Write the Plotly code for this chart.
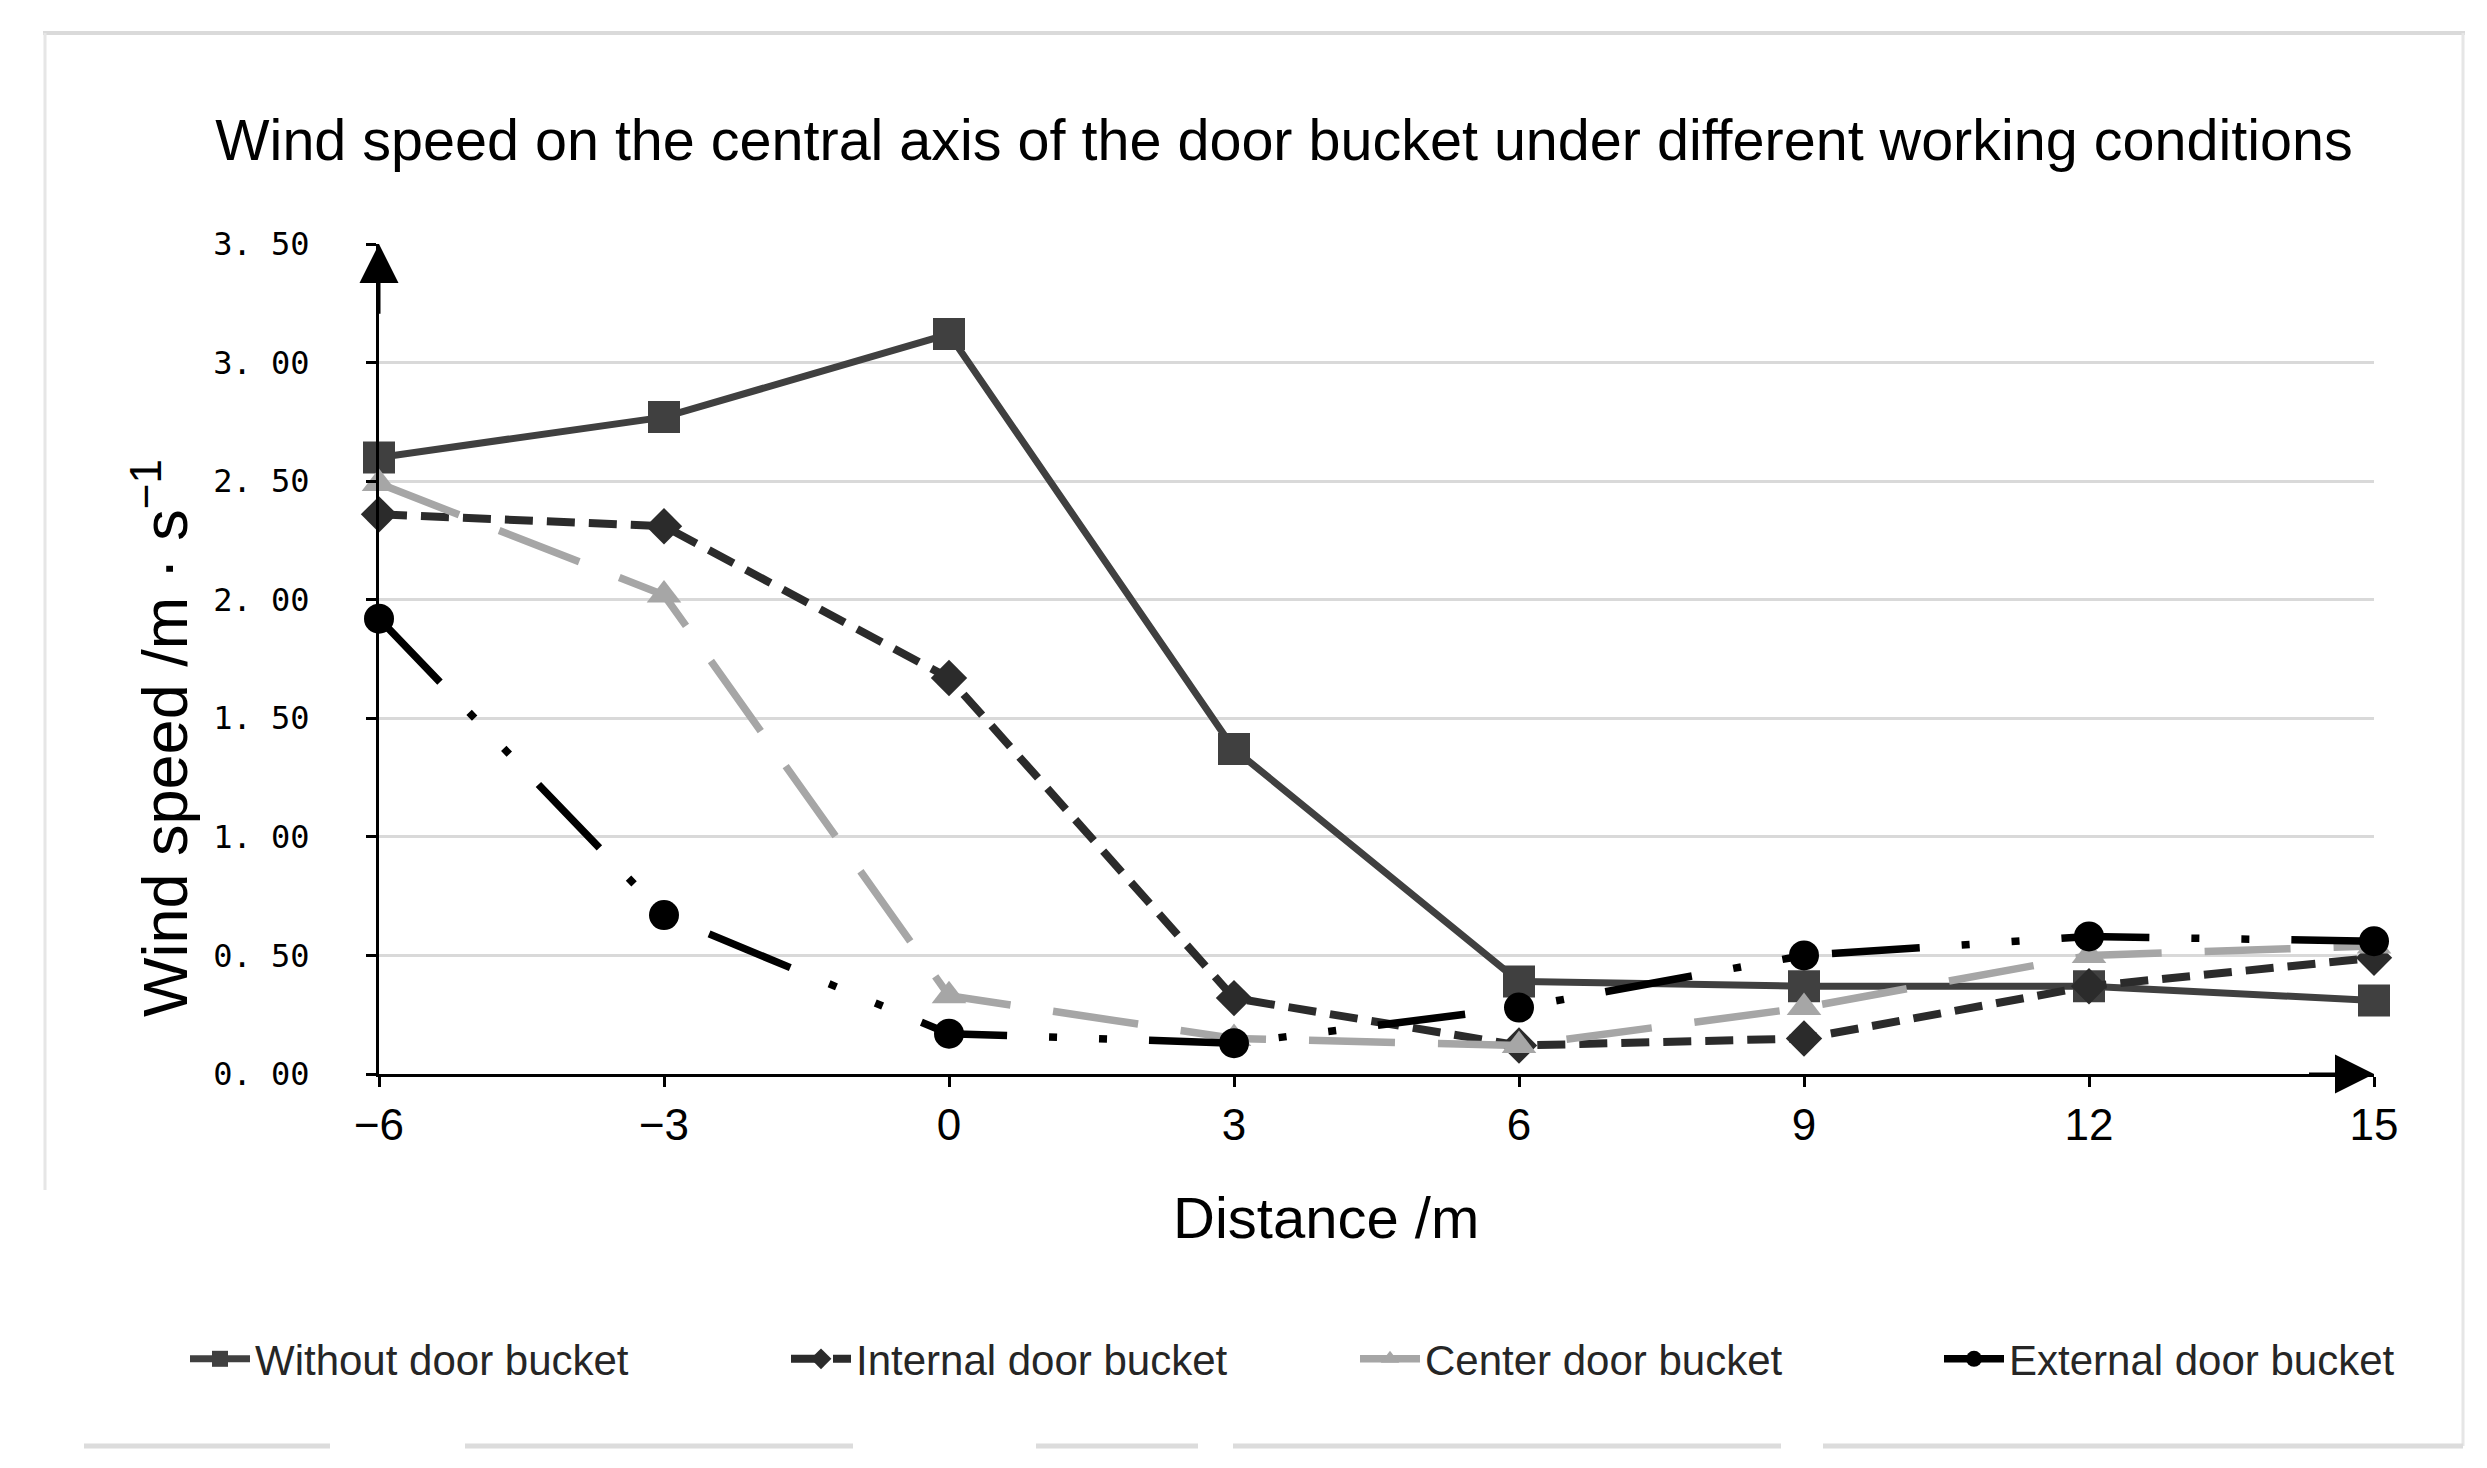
import plotly.graph_objects as go

# ---------------- data ----------------
distance = [-6, -3, 0, 3, 6, 9, 12, 15]
x_tick_text = ["−6", "−3", "0", "3", "6", "9", "12", "15"]
y_tick_vals = [0, 0.5, 1.0, 1.5, 2.0, 2.5, 3.0, 3.5]
y_tick_text = ["0. 00", "0. 50", "1. 00", "1. 50", "2. 00", "2. 50", "3. 00", "3. 50"]

without_door_bucket = [2.60, 2.77, 3.12, 1.37, 0.39, 0.37, 0.37, 0.31]
internal_door_bucket = [2.36, 2.31, 1.67, 0.32, 0.12, 0.15, 0.37, 0.49]
center_door_bucket = [2.49, 2.02, 0.33, 0.15, 0.12, 0.28, 0.50, 0.54]
external_door_bucket = [1.92, 0.67, 0.17, 0.13, 0.28, 0.50, 0.58, 0.56]

series_names = ["Without door bucket", "Internal door bucket",
                "Center door bucket", "External door bucket"]

W, H = 2487, 1468
L, R, T, B = 371, 121, 236, 402
PW, PH = W - L - R, H - T - B


def px_to_paper_x(px):
    return (px - L) / PW


def px_to_paper_y(py):
    return (H - B - py) / PH


fig = go.Figure()

styles = [
    dict(data=without_door_bucket, color="#404040", dash="solid", width=7,
         symbol="square", size=32),
    dict(data=internal_door_bucket, color="#2b2b2b", dash="28px,14px", width=8,
         symbol="diamond", size=28),
    dict(data=center_door_bucket, color="#a6a6a6", dash="86px,43px", width=7.5,
         symbol="triangle-up", size=30),
    dict(data=external_door_bucket, color="#000000",
         dash="88px,42px,8px,42px,8px,42px", width=7.5,
         symbol="circle", size=30),
]
legend_ids = ["legend", "legend2", "legend3", "legend4"]
# left edge (px) where each legend entry's text begins in the reference
legend_text_px = [257, 858, 1427, 2011]

for name, st, lg in zip(series_names, styles, legend_ids):
    fig.add_trace(go.Scatter(
        x=distance, y=st["data"], name=name, mode="lines+markers",
        line=dict(color=st["color"], width=st["width"], dash=st["dash"]),
        marker=dict(symbol=st["symbol"], size=st["size"], color=st["color"],
                    line=dict(width=0)),
        cliponaxis=False, legend=lg,
    ))

# axis arrows
fig.add_annotation(x=-6, y=3.5, ax=-6, ay=3.2, xref="x", yref="y",
                   axref="x", ayref="y", showarrow=True, arrowhead=2,
                   arrowsize=2.6, arrowwidth=3, arrowcolor="black", text="")
fig.add_annotation(x=15, y=0, ax=14.3, ay=0, xref="x", yref="y",
                   axref="x", ayref="y", showarrow=True, arrowhead=2,
                   arrowsize=2.6, arrowwidth=3, arrowcolor="black", text="")

# axis titles
fig.add_annotation(text="Distance /m", xref="paper", yref="paper",
                   x=px_to_paper_x(1318), y=px_to_paper_y(1209),
                   xanchor="center", yanchor="middle", showarrow=False,
                   font=dict(family="Liberation Sans, Arial", size=58, color="black"))
fig.add_annotation(text="Wind speed /m · s<sup>−1</sup>", xref="paper", yref="paper",
                   x=px_to_paper_x(152), y=px_to_paper_y(730),
                   xanchor="center", yanchor="middle", showarrow=False, textangle=-90,
                   font=dict(family="Liberation Sans, Arial", size=63, color="black"))

# outer frame (light grey)
frame_col = "#dadada"
fig.add_shape(type="line", xref="paper", yref="paper",
              x0=px_to_paper_x(35), x1=px_to_paper_x(2457),
              y0=px_to_paper_y(25), y1=px_to_paper_y(25),
              line=dict(color=frame_col, width=4))
fig.add_shape(type="line", xref="paper", yref="paper",
              x0=px_to_paper_x(37), x1=px_to_paper_x(37),
              y0=px_to_paper_y(25), y1=px_to_paper_y(1182),
              line=dict(color="#e6e6e6", width=3))
fig.add_shape(type="line", xref="paper", yref="paper",
              x0=px_to_paper_x(2455), x1=px_to_paper_x(2455),
              y0=px_to_paper_y(25), y1=px_to_paper_y(1438),
              line=dict(color="#e6e6e6", width=3))
for a, b in [(76, 322), (457, 845), (1028, 1190), (1225, 1773), (1815, 2455)]:
    fig.add_shape(type="line", xref="paper", yref="paper",
                  x0=px_to_paper_x(a), x1=px_to_paper_x(b),
                  y0=px_to_paper_y(1438), y1=px_to_paper_y(1438),
                  line=dict(color="#dcdcdc", width=5))

legend_common = dict(orientation="h", xref="container", yref="container",
                     xanchor="left", y=1 - 1351 / H, yanchor="middle",
                     font=dict(family="Liberation Sans, Arial", size=42, color="#262626"),
                     itemwidth=60, bgcolor="rgba(0,0,0,0)")
legend_layout = {}
for lg, tx in zip(legend_ids, legend_text_px):
    legend_layout[lg] = dict(legend_common, x=(tx - 80) / W)

fig.update_layout(
    width=W, height=H,
    margin=dict(l=L, r=R, t=T, b=B, autoexpand=False),
    paper_bgcolor="white", plot_bgcolor="white",
    title=dict(text="Wind speed on the central axis of the door bucket under different working conditions",
               x=1276 / W, xref="container", xanchor="center",
               y=1 - 132 / H, yref="container", yanchor="middle",
               font=dict(family="Liberation Sans, Arial", size=57.5, color="black")),
    showlegend=True,
    xaxis=dict(range=[-6, 15], tickmode="array", tickvals=distance,
               ticktext=x_tick_text, showgrid=False, zeroline=False,
               showline=True, linecolor="black", linewidth=3,
               ticks="outside", ticklen=10, tickwidth=3, tickcolor="black",
               ticklabelstandoff=0,
               tickfont=dict(family="Liberation Sans Narrow, Liberation Sans", size=44,
                             color="black")),
    yaxis=dict(range=[0, 3.5], tickmode="array", tickvals=y_tick_vals,
               ticktext=y_tick_text, showgrid=True, gridcolor="#d9d9d9",
               gridwidth=3, zeroline=False,
               showline=True, linecolor="black", linewidth=3,
               ticks="outside", ticklen=10, tickwidth=3, tickcolor="black",
               ticklabelstandoff=50,
               tickfont=dict(family="DejaVu Sans Mono", size=32, color="black")),
    **legend_layout,
)

fig.write_html("out.html")
